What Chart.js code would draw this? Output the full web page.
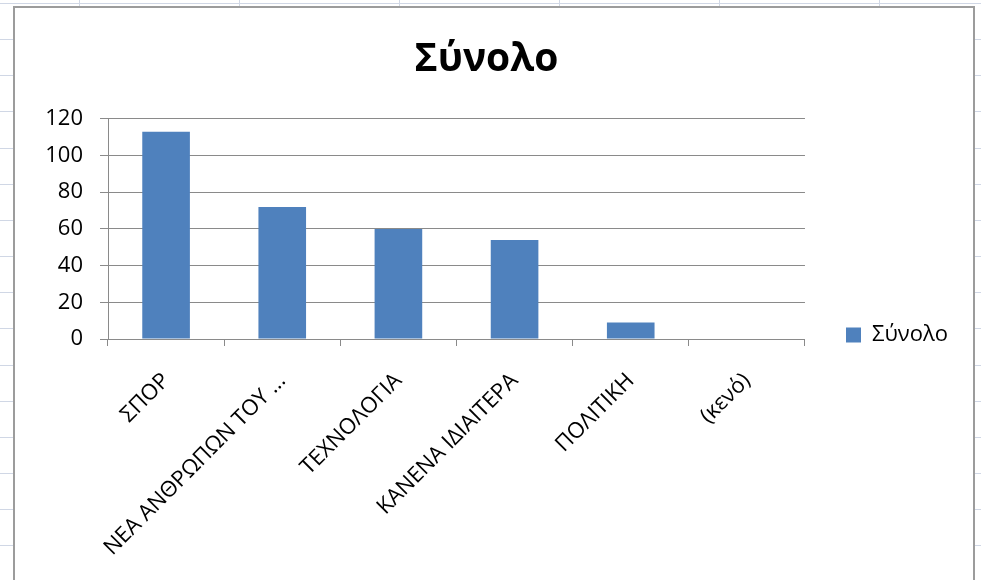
<!DOCTYPE html>
<html lang="el">
<head>
    <meta charset="UTF-8">
    <title>Σύνολο</title>
    <script src="https://cdn.jsdelivr.net/npm/chart.js"></script>
    <style>
        html, body {
            margin: 0;
            width: 981px;
            height: 580px;
            overflow: hidden;
            background-color: #fff;
            /* spreadsheet cells behind the chart */
            background-image:
                repeating-linear-gradient(to right, transparent 0, transparent 79px, #d0d7e5 79px, #d0d7e5 80px, transparent 80px, transparent 160px),
                repeating-linear-gradient(to bottom, transparent 0, transparent 3px, #d0d7e5 3px, #d0d7e5 4px, transparent 4px, transparent 36.15px);
        }
        #box {
            position: absolute;
            left: 13px;
            top: 6px;
            width: 958px;
            height: 654px;
            border: 2px solid #9c9c9c;
            background: #fff;
        }
    </style>
</head>
<body>
    <div id="box">
        <canvas id="chart"></canvas>
    </div>

    <script>
        const categories = ['ΣΠΟΡ', 'ΝΕΑ ΑΝΘΡΩΠΩΝ ΤΟΥ ...', 'ΤΕΧΝΟΛΟΓΙΑ', 'ΚΑΝΕΝΑ ΙΔΙΑΙΤΕΡΑ', 'ΠΟΛΙΤΙΚΗ', '(κενό)'];
        const totals = [113, 72, 60, 54, 9, 0];
        const seriesName = 'Σύνολο';

        const gridColor = '#8a8a8a';
        Chart.defaults.font.family = "'Open Sans', 'Noto Sans', sans-serif";
        Chart.defaults.color = '#000';

        new Chart(document.getElementById('chart'), {
            type: 'bar',
            data: {
                labels: categories,
                datasets: [{
                    label: seriesName,
                    data: totals,
                    backgroundColor: '#4f81bd',
                    borderWidth: 0,
                    barPercentage: 0.41,
                    categoryPercentage: 1
                }]
            },
            options: {
                responsive: true,
                maintainAspectRatio: false,
                animation: false,
                layout: { padding: { left: 0, right: 15, top: 0, bottom: 0 } },
                plugins: {
                    title: {
                        display: true,
                        text: seriesName,
                        color: '#000',
                        font: { size: 39, weight: 'bold' },
                        padding: { top: 28, bottom: 36 }
                    },
                    legend: {
                        position: 'right',
                        labels: {
                            boxWidth: 15,
                            boxHeight: 15,
                            padding: 41,
                            color: '#000',
                            font: { size: 22 }
                        }
                    },
                    tooltip: { enabled: false }
                },
                scales: {
                    x: {
                        grid: {
                            drawOnChartArea: false,
                            drawTicks: true,
                            tickLength: 7,
                            color: gridColor
                        },
                        border: { color: gridColor },
                        ticks: {
                            autoSkip: false,
                            minRotation: 45,
                            maxRotation: 45,
                            padding: 22,
                            font: { size: 22 }
                        },
                        afterFit: function (scale) { scale.height = 323; }
                    },
                    y: {
                        min: 0,
                        max: 120,
                        ticks: {
                            stepSize: 20,
                            padding: 17,
                            font: { size: 22 }
                        },
                        grid: { color: gridColor, tickLength: 8 },
                        border: { color: gridColor },
                        afterFit: function (scale) { scale.width = 93; }
                    }
                }
            }
        });
    </script>
</body>
</html>
